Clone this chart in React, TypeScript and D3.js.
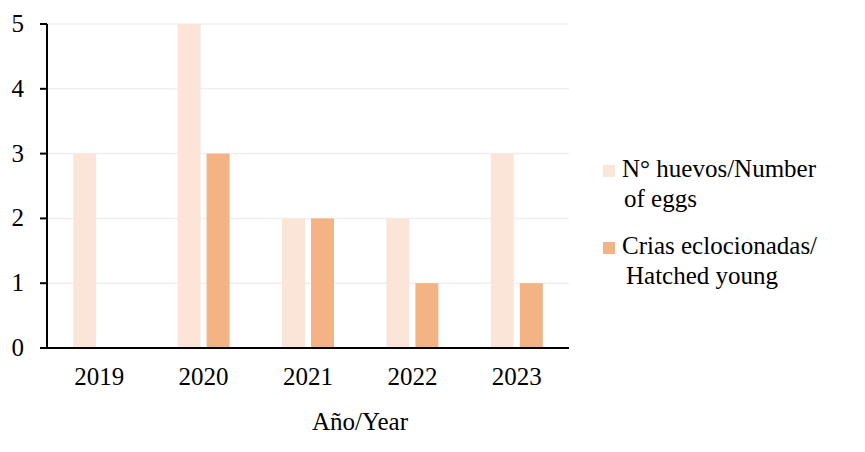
import React from "react";
import * as d3 from "d3";

const years = ["2019", "2020", "2021", "2022", "2023"];
const eggs = [3, 5, 2, 2, 3];
const hatched = [0, 3, 2, 1, 1];
const yTicks = [0, 1, 2, 3, 4, 5];
const legendLines = [["N° huevos/Number", "of eggs"], ["Crias eclocionadas/", "Hatched young"]];
const xTitle = "Año/Year";

export default function App() {
  const W = 865, H = 452;
  const left = 47, right = 569, top = 24, bottom = 348;
  const x = d3.scaleBand().domain(years).range([left, right]);
  const y = d3.scaleLinear().domain([0, 5]).range([bottom, top]);
  const barW = 23, gap = 6;
  const colors = ["#FAE5D8", "#F4B384"];
  const fs = 25;
  const font = "Liberation Serif";
  const legendY = [165, 242];
  return (
    <svg width={W} height={H} style={{ position: "absolute", left: 0, top: 0 }}>
      <rect width={W} height={H} fill="#fff" />
      {yTicks.filter(t => t > 0).map(t => (
        <line key={t} x1={left} x2={right} y1={y(t)} y2={y(t)} stroke="#EFEFEF" strokeWidth={1.5} />
      ))}
      {years.map((yr, i) => {
        const c = x(yr)! + x.bandwidth() / 2;
        return (
          <g key={yr}>
            <rect x={c - gap / 2 - barW} y={y(eggs[i])} width={barW} height={y(0) - y(eggs[i])} fill={colors[0]} />
            {hatched[i] > 0 && (
              <rect x={c + gap / 2} y={y(hatched[i])} width={barW} height={y(0) - y(hatched[i])} fill={colors[1]} />
            )}
            <text x={c} y={385} textAnchor="middle" fontFamily={font} fontSize={fs}>{yr}</text>
          </g>
        );
      })}
      <line x1={left} x2={left} y1={top} y2={bottom} stroke="#000" strokeWidth={2} />
      <line x1={left - 7} x2={right} y1={bottom} y2={bottom} stroke="#000" strokeWidth={2} />
      {yTicks.map(t => (
        <g key={t}>
          <line x1={left - 7} x2={left} y1={y(t)} y2={y(t)} stroke="#000" strokeWidth={2} />
          <text x={24} y={y(t) + 8} textAnchor="end" fontFamily={font} fontSize={fs}>{t}</text>
        </g>
      ))}
      <text x={360} y={430} textAnchor="middle" fontFamily={font} fontSize={fs}>{xTitle}</text>
      {legendLines.map((lines, i) => (
        <g key={i}>
          <rect x={603} y={legendY[i]} width={12} height={12} fill={colors[i]} />
          <text x={622} y={legendY[i] + 12} fontFamily={font} fontSize={fs}>{lines[0]}</text>
          <text x={624 + i * 2} y={legendY[i] + 42} fontFamily={font} fontSize={fs}>{lines[1]}</text>
        </g>
      ))}
    </svg>
  );
}
